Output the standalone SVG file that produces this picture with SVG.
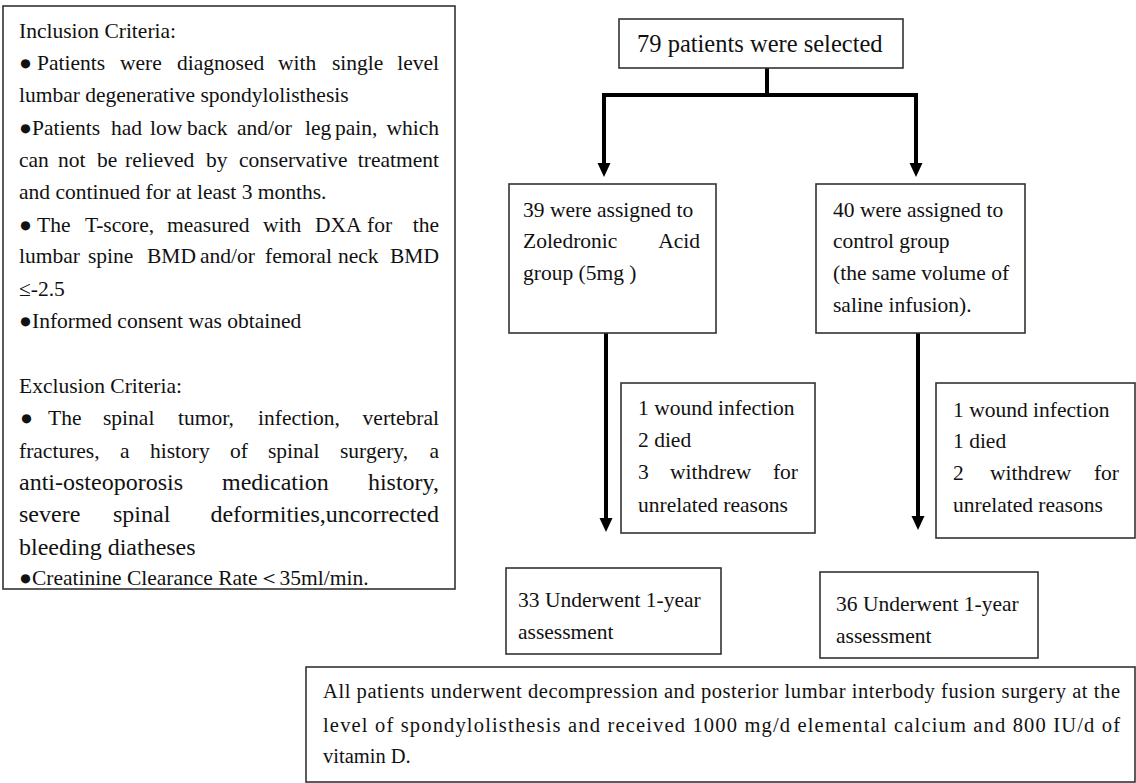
<svg xmlns="http://www.w3.org/2000/svg" width="1136" height="783" viewBox="0 0 1136 783">
<style>
.box{fill:#fff;stroke:#333;stroke-width:1.6}
.t{font-family:'Liberation Serif','Times New Roman',serif;font-size:21.5px;fill:#111}
.big{font-size:24px}
.fc{font-family:'Liberation Serif','Times New Roman',serif;font-size:21.5px;fill:#111}
.nt{font-family:'Liberation Serif','Times New Roman',serif;font-size:20.5px;fill:#111}
.conn{fill:none;stroke:#000;stroke-width:4}
</style>
<defs>
<marker id="arr" viewBox="0 0 14 14" refX="0" refY="7" markerWidth="14" markerHeight="14" markerUnits="userSpaceOnUse" orient="auto">
<path d="M0,0.5 L14,7 L0,13.5 z" fill="#000"/>
</marker>
</defs>
<rect width="1136" height="783" fill="#fff"/>

<g id="criteria">
<rect class="box" x="3" y="6" width="452" height="583"/>
<text class="t" y="38"><tspan x="19">Inclusion Criteria:</tspan></text>
<text class="t" y="70"><tspan x="19">●</tspan><tspan x="37">Patients</tspan><tspan x="120">were</tspan><tspan x="177">diagnosed</tspan><tspan x="278">with</tspan><tspan x="332">single</tspan><tspan x="439" text-anchor="end">level</tspan></text>
<text class="t" y="102"><tspan x="19">lumbar degenerative spondylolisthesis</tspan></text>
<text class="t" y="135"><tspan x="19">●Patients</tspan><tspan x="111">had</tspan><tspan x="150">low</tspan><tspan x="187">back</tspan><tspan x="237">and/or</tspan><tspan x="305">leg</tspan><tspan x="335">pain,</tspan><tspan x="439" text-anchor="end">which</tspan></text>
<text class="t" y="167"><tspan x="19">can</tspan><tspan x="58">not</tspan><tspan x="97">be</tspan><tspan x="125">relieved</tspan><tspan x="206">by</tspan><tspan x="239">conservative</tspan><tspan x="439" text-anchor="end">treatment</tspan></text>
<text class="t" y="199"><tspan x="19">and continued for at least 3 months.</tspan></text>
<text class="t" y="232"><tspan x="19">●</tspan><tspan x="37">The</tspan><tspan x="85">T-score,</tspan><tspan x="167">measured</tspan><tspan x="263">with</tspan><tspan x="315">DXA</tspan><tspan x="367">for</tspan><tspan x="439" text-anchor="end">the</tspan></text>
<text class="t" y="263"><tspan x="19">lumbar</tspan><tspan x="88">spine</tspan><tspan x="147">BMD</tspan><tspan x="200">and/or</tspan><tspan x="265">femoral</tspan><tspan x="338">neck</tspan><tspan x="439" text-anchor="end">BMD</tspan></text>
<text class="t" y="296"><tspan x="19">≤-2.5</tspan></text>
<text class="t" y="328"><tspan x="19">●Informed consent was obtained</tspan></text>
<text class="t" y="393"><tspan x="19">Exclusion Criteria:</tspan></text>
<text class="t" y="425"><tspan x="20">●</tspan><tspan x="48">The</tspan><tspan x="103">spinal</tspan><tspan x="178">tumor,</tspan><tspan x="258">infection,</tspan><tspan x="439" text-anchor="end">vertebral</tspan></text>
<text class="t" y="458"><tspan x="19">fractures,</tspan><tspan x="120">a</tspan><tspan x="150">history</tspan><tspan x="230">of</tspan><tspan x="268">spinal</tspan><tspan x="340">surgery,</tspan><tspan x="439" text-anchor="end">a</tspan></text>
<text class="t big" y="490"><tspan x="19">anti-osteoporosis</tspan><tspan x="222">medication</tspan><tspan x="439" text-anchor="end">history,</tspan></text>
<text class="t big" y="522"><tspan x="19">severe</tspan><tspan x="113">spinal</tspan><tspan x="439" text-anchor="end">deformities,uncorrected</tspan></text>
<text class="t big" y="555"><tspan x="19">bleeding diatheses</tspan></text>
<text class="t" y="585"><tspan x="19">●Creatinine Clearance Rate＜35ml/min.</tspan></text>
</g>

<g id="connectors">
<path class="conn" d="M767,68 V95"/>
<path class="conn" d="M602,95 H918"/>
<path class="conn" d="M604,93 V163" marker-end="url(#arr)"/>
<path class="conn" d="M916,93 V163" marker-end="url(#arr)"/>
<path class="conn" d="M606,333 V518" marker-end="url(#arr)"/>
<path class="conn" d="M918,333 V516" marker-end="url(#arr)"/>
</g>

<g id="selected">
<rect class="box" x="619" y="19" width="284" height="49"/>
<text class="fc" x="637" y="52" style="font-size:24.5px">79 patients were selected</text>
</g>

<g id="zoledronic">
<rect class="box" x="509" y="184" width="207" height="149"/>
<text class="fc" y="217"><tspan x="523">39 were assigned to</tspan></text>
<text class="fc" y="248"><tspan x="523">Zoledronic</tspan><tspan x="700" text-anchor="end">Acid</tspan></text>
<text class="fc" y="280"><tspan x="523">group (5mg )</tspan></text>
</g>

<g id="control">
<rect class="box" x="816" y="184" width="209" height="149"/>
<text class="fc" x="833" y="217">40 were assigned to</text>
<text class="fc" x="833" y="248">control group</text>
<text class="fc" x="833" y="280">(the same volume of</text>
<text class="fc" x="833" y="312">saline infusion).</text>
</g>

<g id="loss-left">
<rect class="box" x="621" y="383" width="194" height="150"/>
<text class="fc" x="638" y="415">1 wound infection</text>
<text class="fc" x="638" y="447">2 died</text>
<text class="fc" y="479"><tspan x="638">3</tspan><tspan x="670">withdrew</tspan><tspan x="798" text-anchor="end">for</tspan></text>
<text class="fc" x="638" y="512">unrelated reasons</text>
</g>

<g id="loss-right">
<rect class="box" x="936" y="383" width="199" height="155"/>
<text class="fc" x="953" y="417">1 wound infection</text>
<text class="fc" x="953" y="448">1 died</text>
<text class="fc" y="480"><tspan x="953">2</tspan><tspan x="990">withdrew</tspan><tspan x="1119" text-anchor="end">for</tspan></text>
<text class="fc" x="953" y="512">unrelated reasons</text>
</g>

<g id="assess-left">
<rect class="box" x="506" y="568" width="215" height="86"/>
<text class="fc" x="518" y="607">33 Underwent 1-year</text>
<text class="fc" x="518" y="639">assessment</text>
</g>

<g id="assess-right">
<rect class="box" x="820" y="572" width="218" height="86"/>
<text class="fc" x="836" y="611">36 Underwent 1-year</text>
<text class="fc" x="836" y="643">assessment</text>
</g>

<g id="note">
<rect class="box" x="306" y="667" width="829" height="115"/>
<text class="nt" x="323" y="698" textLength="797" lengthAdjust="spacing">All patients underwent decompression and posterior lumbar interbody fusion surgery at the</text>
<text class="nt" x="323" y="732" textLength="797" lengthAdjust="spacing">level of spondylolisthesis and received 1000 mg/d elemental calcium and 800 IU/d of</text>
<text class="nt" x="323" y="763">vitamin D.</text>
</g>
</svg>
